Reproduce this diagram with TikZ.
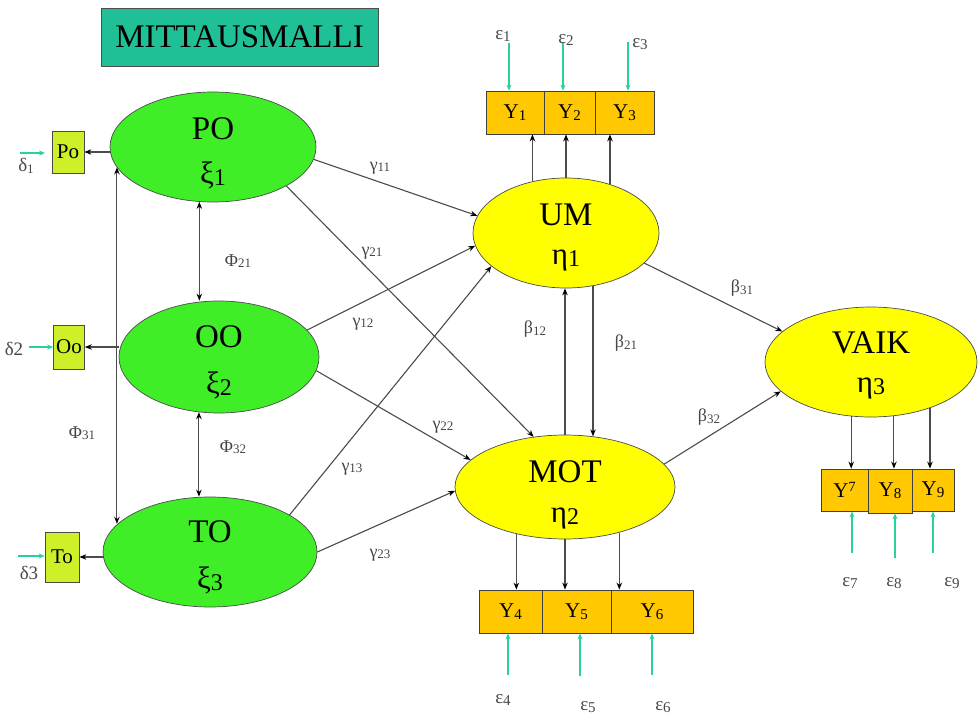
\documentclass[tikz,border=0pt]{standalone}
\usepackage{fontspec}
\setmainfont{Liberation Serif}
\usetikzlibrary{shapes.geometric,arrows.meta,calc}

\definecolor{titleteal}{RGB}{32,192,150}
\definecolor{exogreen}{RGB}{64,238,40}
\definecolor{endoyellow}{RGB}{255,255,0}
\definecolor{indorange}{RGB}{255,200,0}
\definecolor{indlime}{RGB}{206,240,40}
\definecolor{errgreen}{RGB}{40,210,160}
\definecolor{linegray}{RGB}{75,75,75}
\definecolor{labgray}{RGB}{70,70,70}

\newcommand\fs[1]{\fontsize{#1}{#1}\selectfont}
\newcommand\lowsub[2]{\raisebox{-0.2ex}{\fs{#1}#2}}
\newcommand\highsup[2]{\raisebox{0.6ex}{\fs{#1}#2}}
\newcommand\coefl[2]{#1\lowsub{13}{#2}}
\newcommand\ylab[1]{Y\lowsub{15}{#1}}

\begin{document}
\begin{tikzpicture}[x=1pt,y=-1pt,
  latent/.style={ellipse, draw=linegray, line width=0.7pt, inner sep=0pt},
  exo/.style={latent, fill=exogreen},
  endo/.style={latent, fill=endoyellow},
  ind/.style={rectangle, draw=black!75, line width=0.8pt, fill=indorange,
    inner sep=0pt, font=\fs{21}},
  smallind/.style={rectangle, draw=linegray, line width=0.7pt, fill=indlime,
    inner sep=0pt, font=\fs{21}},
  bigname/.style={inner sep=0pt, font=\fs{33}},
  bigsym/.style={inner sep=0pt, font=\fs{31}},
  coef/.style={text=labgray, font=\fs{18}, inner sep=0pt},
  errlab/.style={text=labgray, font=\fs{19}, inner sep=0pt},
  pathc/.style={draw=linegray, line width=1.1pt,
    -{Stealth[length=7pt,width=5.5pt,color=black]}},
  corr/.style={draw=linegray, line width=1.1pt,
    {Stealth[length=7pt,width=5.5pt,color=black]}-{Stealth[length=7pt,width=5.5pt,color=black]}},
  errc/.style={draw=errgreen, line width=1.3pt,
    -{Stealth[length=6pt,width=5pt]}}
]
\useasboundingbox (0,0) rectangle (978,715);

% title
\node[draw=black!70, line width=0.7pt, fill=titleteal, minimum width=277pt,
  minimum height=58pt, inner sep=0pt, font=\fs{33}] (title) at (239.5,37) {MITTAUSMALLI};

% latent variables
\node[exo, minimum width=206pt, minimum height=110pt] (PO) at (213,147) {};
\node[exo, minimum width=200pt, minimum height=112pt] (OO) at (219,357) {};
\node[exo, minimum width=214pt, minimum height=110pt] (TO) at (210,552) {};
\node[endo, minimum width=186pt, minimum height=110pt] (UM) at (566,233) {};
\node[endo, minimum width=220pt, minimum height=104pt] (MOT) at (565,487) {};
\node[endo, minimum width=212pt, minimum height=110pt] (VAIK) at (871,362) {};

\node[bigname] (POn) at (213,129) {PO};
\node[bigsym] (POs) at (213,175) {ξ\lowsub{24}{1}};
\node[bigname] (OOn) at (219,337) {OO};
\node[bigsym] (OOs) at (219,385) {ξ\lowsub{24}{2}};
\node[bigname] (TOn) at (210,532) {TO};
\node[bigsym] (TOs) at (210,580) {ξ\lowsub{24}{3}};
\node[bigname] (UMn) at (566,215) {UM};
\node[bigsym] (UMs) at (566,260) {η\lowsub{24}{1}};
\node[bigname] (MOTn) at (565,472) {MOT};
\node[bigsym] (MOTs) at (565,518) {η\lowsub{24}{2}};
\node[bigname] (VAIKn) at (871,343) {VAIK};
\node[bigsym] (VAIKs) at (871,388) {η\lowsub{24}{3}};

% observed indicators
\node[smallind, minimum width=32pt, minimum height=42pt] (Po) at (68,152) {Po};
\node[smallind, minimum width=31pt, minimum height=44pt] (Oo) at (69,347) {Oo};
\node[smallind, minimum width=34pt, minimum height=50pt] (To) at (62,557) {To};

\node[ind, minimum width=58pt, minimum height=43pt] (Y1) at (515,112.5) {\ylab{1}};
\node[ind, minimum width=51pt, minimum height=43pt] (Y2) at (569.5,112.5) {\ylab{2}};
\node[ind, minimum width=59pt, minimum height=43pt] (Y3) at (624.5,112.5) {\ylab{3}};
\node[ind, minimum width=63pt, minimum height=43pt] (Y4) at (510.5,611.5) {\ylab{4}};
\node[ind, minimum width=69pt, minimum height=43pt] (Y5) at (576.5,611.5) {\ylab{5}};
\node[ind, minimum width=82pt, minimum height=43pt] (Y6) at (652,611.5) {\ylab{6}};
\node[ind, minimum width=47pt, minimum height=42pt] (Y7) at (844.5,490) {Y\highsup{14}{7}};
\node[ind, minimum width=44pt, minimum height=44pt] (Y8) at (890,491) {\ylab{8}};
\node[ind, minimum width=42pt, minimum height=42pt] (Y9) at (933,490) {\ylab{9}};

% structural paths
\draw[pathc] (PO.-7) -- (UM.169);
\draw[pathc] (PO.-28) -- (MOT.122);
\draw[pathc] (OO.17) -- (UM.188);
\draw[pathc] (OO.-8) -- (MOT.164);
\draw[pathc] (TO.25) -- (UM.204);
\draw[pathc] (TO.0) -- (MOT.182);
\draw[pathc] (MOT.north) -- (MOT.north |- UM.south);
\draw[pathc] (UM.-63) -- (UM.-63 |- MOT.61);
\draw[pathc] (UM.-21) -- (VAIK.161);
\draw[pathc] (MOT.13) -- (VAIK.198);

% correlations between exogenous variables
\draw[corr] (PO.192) -- (PO.192 |- TO.163);
\draw[corr] (PO.256) -- (PO.256 |- OO.north);
\draw[corr] (OO.250) -- (OO.250 |- TO.north);

% measurement paths
\draw[pathc] (Po.east -| PO.west) -- (Po.east);
\draw[pathc] (Oo.east -| OO.west) -- (Oo.east);
\draw[pathc] (To.east -| TO.west) -- (To.east);

\draw[pathc] (UM.123) -- (UM.123 |- Y1.south);
\draw[pathc] (UM.90) -- (UM.90 |- Y2.south);
\draw[pathc] (UM.48) -- (UM.48 |- Y3.south);

\draw[pathc] (MOT.224) -- (MOT.224 |- Y4.north);
\draw[pathc] (MOT.270) -- (MOT.270 |- Y5.north);
\draw[pathc] (MOT.-40) -- (MOT.-40 |- Y6.north);

\draw[pathc] (VAIK.250) -- (VAIK.250 |- Y7.north);
\draw[pathc] (VAIK.-67) -- (VAIK.-67 |- Y8.north);
\draw[pathc] (VAIK.-38) -- (VAIK.-38 |- Y9.north);

% error terms
\coordinate (d1s) at (20,153);
\coordinate (d1e) at (45,153);
\coordinate (d2s) at (29,347);
\coordinate (d3s) at (18,556);
\draw[errc] (d1s) -- (d1e);
\draw[errc] (d2s) -- (d2s -| Oo.west);
\draw[errc] (d3s) -- (d3s -| To.west);

\coordinate (e1s) at (509,43);
\coordinate (e2s) at (563,43);
\coordinate (e3s) at (628,42);
\draw[errc] (e1s) -- (e1s |- Y1.north);
\draw[errc] (e2s) -- (e2s |- Y2.north);
\draw[errc] (e3s) -- (e3s |- Y3.north);

\coordinate (e4s) at (508,675);
\coordinate (e5s) at (580,676);
\coordinate (e6s) at (652,675);
\draw[errc] (e4s) -- (e4s |- Y4.south);
\draw[errc] (e5s) -- (e5s |- Y5.south);
\draw[errc] (e6s) -- (e6s |- Y6.south);

\coordinate (e7s) at (852,553);
\coordinate (e8s) at (895,558);
\coordinate (e9s) at (933,553);
\draw[errc] (e7s) -- (e7s |- Y7.south);
\draw[errc] (e8s) -- (e8s |- Y8.south);
\draw[errc] (e9s) -- (e9s |- Y9.south);

% error labels
\node[errlab] (ld1) at (26,166) {δ\lowsub{13}{1}};
\node[errlab] (ld2) at (14,349) {δ2};
\node[errlab] (ld3) at (29,573) {δ3};
\node[errlab] (le1) at (503,36) {ε\lowsub{15}{1}};
\node[errlab] (le2) at (566,40) {ε\lowsub{15}{2}};
\node[errlab] (le3) at (640,44) {ε\lowsub{15}{3}};
\node[errlab] (le4) at (503,700) {ε\lowsub{15}{4}};
\node[errlab] (le5) at (588,707) {ε\lowsub{15}{5}};
\node[errlab] (le6) at (663,707) {ε\lowsub{15}{6}};
\node[errlab] (le7) at (850,583) {ε\lowsub{15}{7}};
\node[errlab] (le8) at (894,583) {ε\lowsub{15}{8}};
\node[errlab] (le9) at (952,583) {ε\lowsub{15}{9}};

% coefficient labels
\node[coef] (g11) at (380,168) {\coefl{γ}{11}};
\node[coef] (g21) at (372,253) {\coefl{γ}{21}};
\node[coef] (g12) at (363,324) {\coefl{γ}{12}};
\node[coef] (g22) at (443,427) {\coefl{γ}{22}};
\node[coef] (g13) at (352,469) {\coefl{γ}{13}};
\node[coef] (g23) at (380,555) {\coefl{γ}{23}};
\node[coef] (b12) at (535,329) {\coefl{β}{12}};
\node[coef] (b21) at (626,343) {\coefl{β}{21}};
\node[coef] (b31) at (742,288) {\coefl{β}{31}};
\node[coef] (b32) at (709,417) {\coefl{β}{32}};
\node[coef] (f21) at (238,261) {\coefl{Φ}{21}};
\node[coef] (f31) at (82,433) {\coefl{Φ}{31}};
\node[coef] (f32) at (233,447) {\coefl{Φ}{32}};
\end{tikzpicture}
\end{document}
